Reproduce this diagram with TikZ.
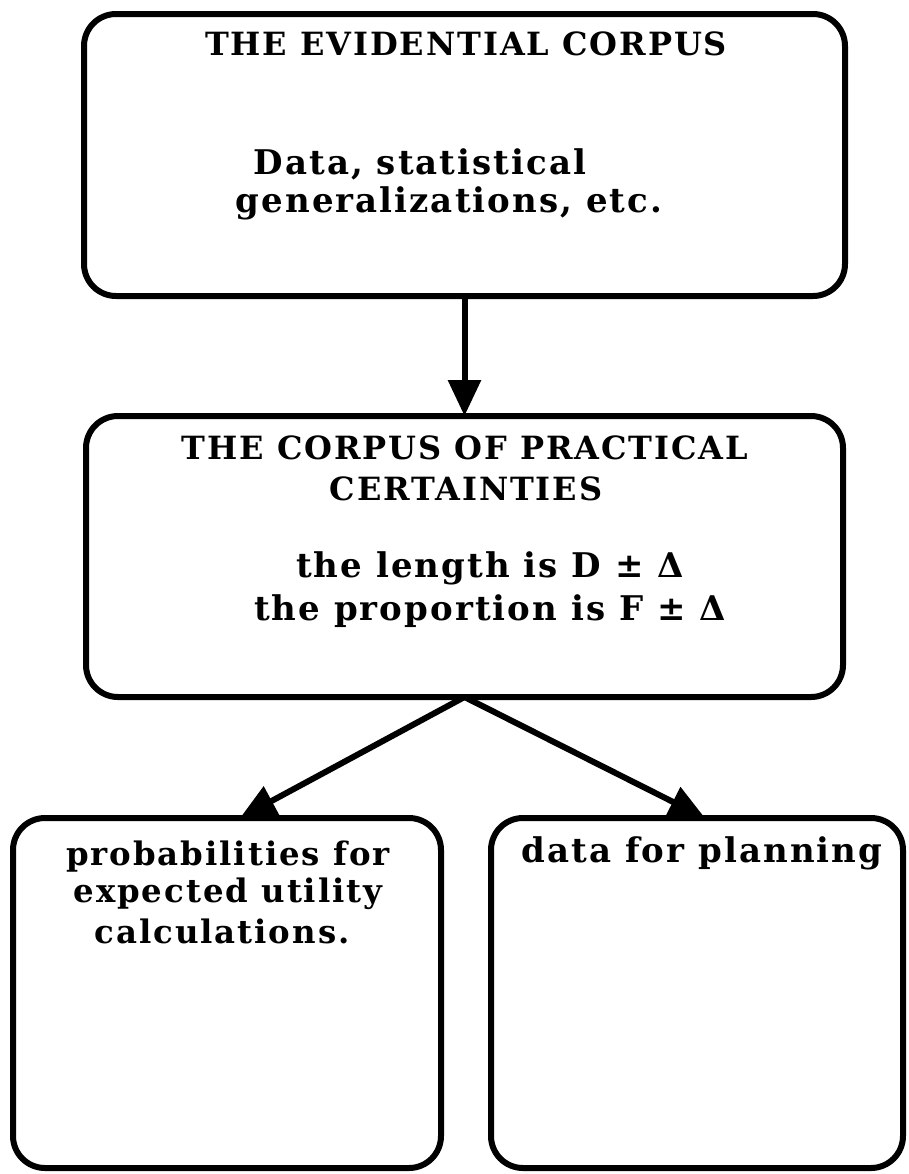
\documentclass[tikz,border=0pt]{standalone}
\usepackage{fontspec}
\newfontfamily\boxfont{DejaVu Serif}[LetterSpace=6]
\usepackage{tikz}
\usetikzlibrary{arrows.meta, positioning}

\tikzset{
  corpus/.style = {draw, line width=3pt, rounded corners=16pt, inner sep=0pt, outer sep=0pt},
  heading/.style = {anchor=base, inner sep=0pt, font=\boxfont\bfseries\fontsize{16pt}{19pt}\selectfont},
  entry/.style = {anchor=base, inner sep=0pt, font=\boxfont\bfseries\fontsize{17pt}{21pt}\selectfont},
  smallentry/.style = {anchor=base, inner sep=0pt, font=\boxfont\bfseries\fontsize{16.2pt}{20pt}\selectfont},
  flow/.style = {draw, line width=3pt, -{Triangle[length=18pt, width=16pt]}}
}

\begin{document}
\begin{tikzpicture}[x=0.5pt, y=-0.5pt]
\useasboundingbox (0,0) rectangle (909,1174);

% boxes
\node [corpus, minimum width=380.5pt, minimum height=141pt] (evid) at (464.5,155) {};
\node [corpus, minimum width=378.5pt, minimum height=140.5pt, below=60pt of evid] (pract) {};
\node [corpus, minimum width=214pt, minimum height=175pt, below=60.5pt of pract.south, anchor=north, xshift=-118.75pt] (probs) {};
\node [corpus, minimum width=206pt, minimum height=175pt, below=60.5pt of pract.south, anchor=north, xshift=116.25pt]  (plan)  {};

% texts
\node [heading]    (evid1)  at (466,55)  {THE EVIDENTIAL CORPUS};
\node [entry]      (evid2)  at (420,174) {Data, statistical};
\node [entry]      (evid3)  at (449,212) {generalizations, etc.};

\node [heading]    (pract1) at (465,459) {THE CORPUS OF PRACTICAL};
\node [heading]    (pract2) at (466,500) {CERTAINTIES};
\node [entry]      (pract3) at (490,577) {the length is D ± Δ};
\node [entry]      (pract4) at (490,620) {the proportion is F ± Δ};

\node [smallentry] (probs1) at (228,865) {probabilities for};
\node [smallentry] (probs2) at (228,902) {expected utility};
\node [smallentry] (probs3) at (222,943) {calculations.};

\node [entry]      (plan1)  at (702,862) {data for planning};

% arrows
\path [flow] (evid) -- (pract);
\path [flow] (pract.south) -- ([xshift=6.5pt]probs.north);
\path [flow] (pract.south) -- ([xshift=4pt]plan.north);

\end{tikzpicture}
\end{document}
